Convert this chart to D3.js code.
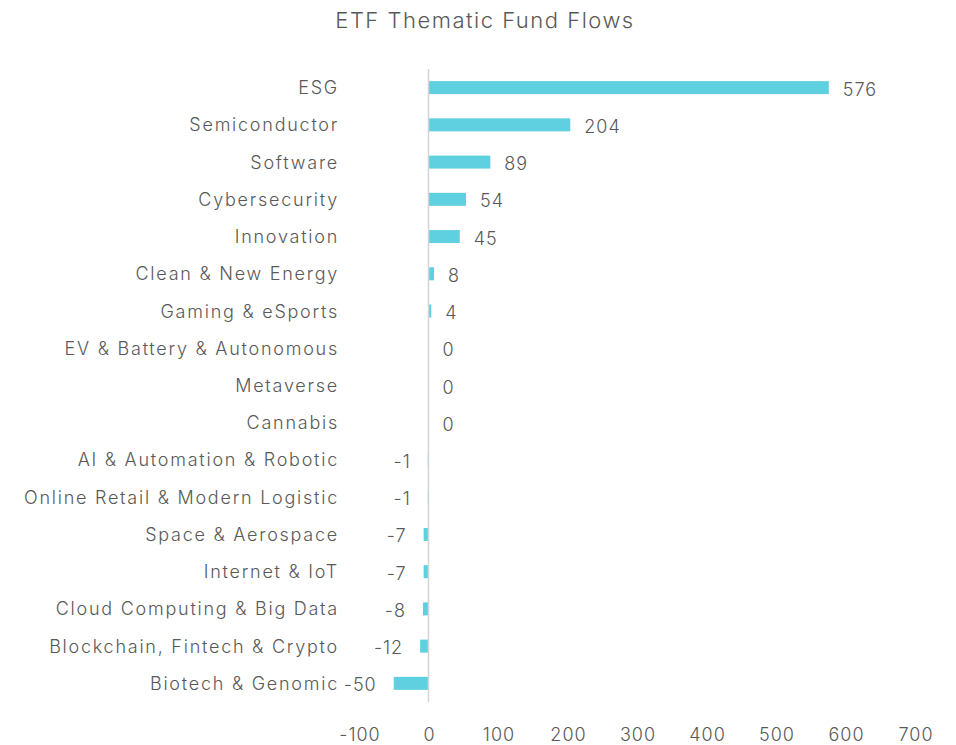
<!DOCTYPE html>
<html>
<head>
<meta charset="utf-8">
<script src="https://cdn.jsdelivr.net/npm/d3@7"></script>
<style>
  body { margin: 0; background: #fff; }
  text { font-family: Inter, "Noto Sans", sans-serif; fill: #595959; font-weight: 300; }
</style>
</head>
<body>
<div id="chart"></div>
<script>
const width = 956;
const height = 745;

const categories = [
  "ESG", "Semiconductor", "Software", "Cybersecurity", "Innovation",
  "Clean & New Energy", "Gaming & eSports", "EV & Battery & Autonomous",
  "Metaverse", "Cannabis", "AI & Automation & Robotic",
  "Online Retail & Modern Logistic", "Space & Aerospace", "Internet & IoT",
  "Cloud Computing & Big Data", "Blockchain, Fintech & Crypto", "Biotech & Genomic"
];
const flows = [576, 204, 89, 54, 45, 8, 4, 0, 0, 0, -1, -1, -7, -7, -8, -12, -50];
const xTicks = [-100, 0, 100, 200, 300, 400, 500, 600, 700];

const barColor = "#5fd0e0";

const svg = d3.select("#chart").append("svg")
  .attr("width", width)
  .attr("height", height);

const x = d3.scaleLinear()
  .domain([-100, 700])
  .range([359, 915]);

const y = d3.scaleBand()
  .domain(categories)
  .range([69, 702]);

const barH = 13;

// title
svg.append("text")
  .attr("x", 485)
  .attr("y", 28)
  .attr("text-anchor", "middle")
  .style("font-size", "22px")
  .style("letter-spacing", "1.5px")
  .text("ETF Thematic Fund Flows");

// bars
svg.selectAll("rect.bar")
  .data(categories)
  .enter()
  .append("rect")
  .attr("class", "bar")
  .attr("x", (d, i) => x(Math.min(0, flows[i])))
  .attr("y", d => y(d) + y.bandwidth() / 2 - barH / 2)
  .attr("width", (d, i) => Math.abs(x(flows[i]) - x(0)))
  .attr("height", barH)
  .attr("fill", barColor);

// zero line
svg.append("line")
  .attr("x1", x(0)).attr("x2", x(0))
  .attr("y1", 69).attr("y2", 702)
  .attr("stroke", "#d4d4d4")
  .attr("stroke-width", 1.5);

// category labels
svg.selectAll("text.cat")
  .data(categories)
  .enter()
  .append("text")
  .attr("class", "cat")
  .attr("x", 339)
  .attr("y", d => y(d) + y.bandwidth() / 2 + 6.5)
  .attr("text-anchor", "end")
  .style("font-size", "18px")
  .style("letter-spacing", "1.75px")
  .text(d => d);

// value labels
svg.selectAll("text.val")
  .data(categories)
  .enter()
  .append("text")
  .attr("class", "val")
  .attr("x", (d, i) => flows[i] < 0 ? x(flows[i]) - 17 : x(flows[i]) + 14)
  .attr("y", d => y(d) + y.bandwidth() / 2 + 8)
  .attr("text-anchor", (d, i) => flows[i] < 0 ? "end" : "start")
  .style("font-size", "18px")
  .style("letter-spacing", "1px")
  .text((d, i) => flows[i]);

// x axis labels
const xAxis = d3.axisBottom(x)
  .tickValues(xTicks)
  .tickSize(0)
  .tickPadding(0)
  .tickFormat(d => String(d));

const gx = svg.append("g")
  .attr("transform", "translate(0.5,728)")
  .call(xAxis);
gx.select(".domain").remove();
gx.selectAll("text")
  .style("font-size", "18px")
  .style("letter-spacing", "1px")
  .style("font-family", "Inter, 'Noto Sans', sans-serif")
  .style("font-weight", "300")
  .attr("fill", "#595959");
</script>
</body>
</html>
